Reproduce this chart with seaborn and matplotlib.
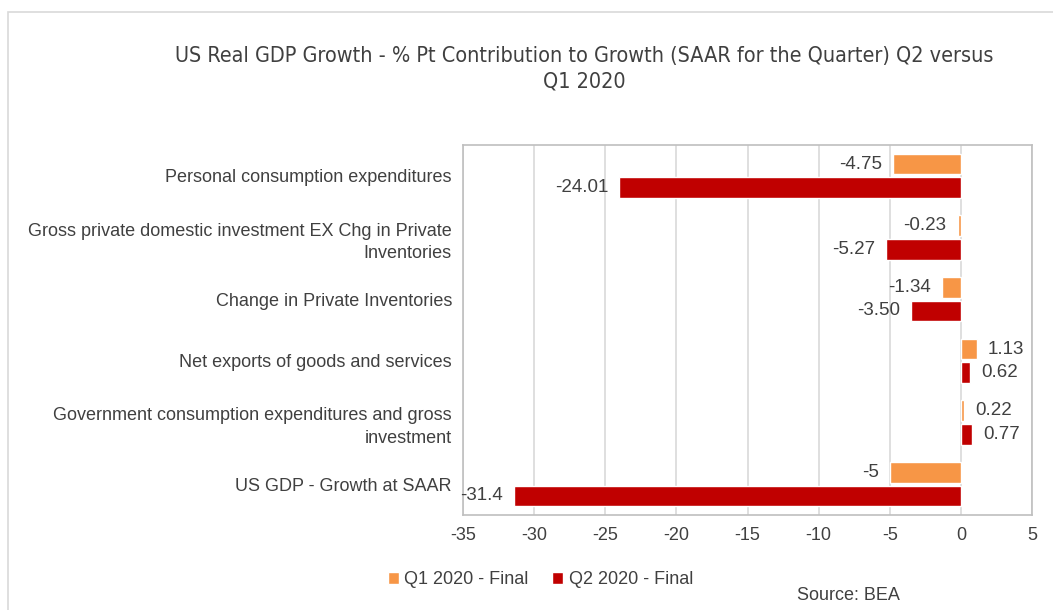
import matplotlib
matplotlib.use("Agg")
import matplotlib.pyplot as plt
import seaborn as sns
import pandas as pd
from matplotlib.patches import Rectangle

categories = [
    "Personal consumption expenditures",
    "Gross private domestic investment EX Chg in Private\nInventories",
    "Change in Private Inventories",
    "Net exports of goods and services",
    "Government consumption expenditures and gross\ninvestment",
    "US GDP - Growth at SAAR",
]
series = ["Q1 2020 - Final", "Q2 2020 - Final"]
q1_values = [-4.75, -0.23, -1.34, 1.13, 0.22, -5.0]
q2_values = [-24.01, -5.27, -3.50, 0.62, 0.77, -31.4]
q1_labels = ["-4.75", "-0.23", "-1.34", "1.13", "0.22", "-5"]
q2_labels = ["-24.01", "-5.27", "-3.50", "0.62", "0.77", "-31.4"]
x_ticks = [-35, -30, -25, -20, -15, -10, -5, 0, 5]

colors = ["#F79646", "#C00000"]
text_color = "#404040"

sns.set_theme(style="white")
plt.rcParams["font.family"] = ["Liberation Sans", "DejaVu Sans"]

df = pd.DataFrame({
    "category": categories * 2,
    "series": [series[0]] * len(categories) + [series[1]] * len(categories),
    "value": q1_values + q2_values,
})

fig = plt.figure(figsize=(10.53, 6.10), dpi=100)
ax = fig.add_axes([463 / 1053, 1 - 515 / 610, (1032 - 463) / 1053, (515 - 145) / 610])

sns.barplot(data=df, y="category", x="value", hue="series", order=categories,
            hue_order=series, palette=colors, orient="h", width=0.76, gap=0.12,
            ax=ax, saturation=1, legend=True)

ax.set_xlim(-35, 5)
ax.set_xticks(x_ticks)
ax.set_xticklabels([str(t) for t in x_ticks], fontsize=13, color=text_color)
ax.tick_params(axis="x", pad=9, length=0)
ax.tick_params(axis="y", pad=8, length=0)
for lbl in ax.get_yticklabels():
    lbl.set_fontsize(13)
    lbl.set_color(text_color)
    lbl.set_linespacing(1.4)
ax.set_xlabel("")
ax.set_ylabel("")
ax.grid(axis="x", color="#D9D9D9", linewidth=1.2)
ax.set_axisbelow(True)
for s in ax.spines.values():
    s.set_color("#BFBFBF")
    s.set_linewidth(1.2)

# data labels
for container, labels in zip(ax.containers, [q1_labels, q2_labels]):
    ax.bar_label(container, labels=labels, padding=8, fontsize=13.5, color=text_color)

leg = ax.legend(loc="center left", bbox_to_anchor=(372 / 1053, 1 - 580 / 610),
                bbox_transform=fig.transFigure, ncol=2, frameon=False,
                handlelength=0.6, handleheight=0.6, handletextpad=0.3,
                columnspacing=1.3, fontsize=13)
for t in leg.get_texts():
    t.set_color(text_color)

fig.text(584 / 1053, 1 - 69 / 610,
         "US Real GDP Growth - % Pt Contribution to Growth (SAAR for the Quarter) Q2 versus\nQ1 2020",
         ha="center", va="center", fontsize=15.5, color=text_color,
         family="DejaVu Sans", fontstretch="condensed", linespacing=1.35)
fig.text(797 / 1053, 1 - 595 / 610, "Source: BEA", ha="left", va="center",
         fontsize=13, color=text_color)

fig.patches.append(Rectangle((8 / 1053, -0.1), 1.2, 1 - 12 / 610 + 0.1,
                             transform=fig.transFigure, fill=False,
                             edgecolor="#D9D9D9", linewidth=1.2))

fig.savefig("out.png", dpi=100)
